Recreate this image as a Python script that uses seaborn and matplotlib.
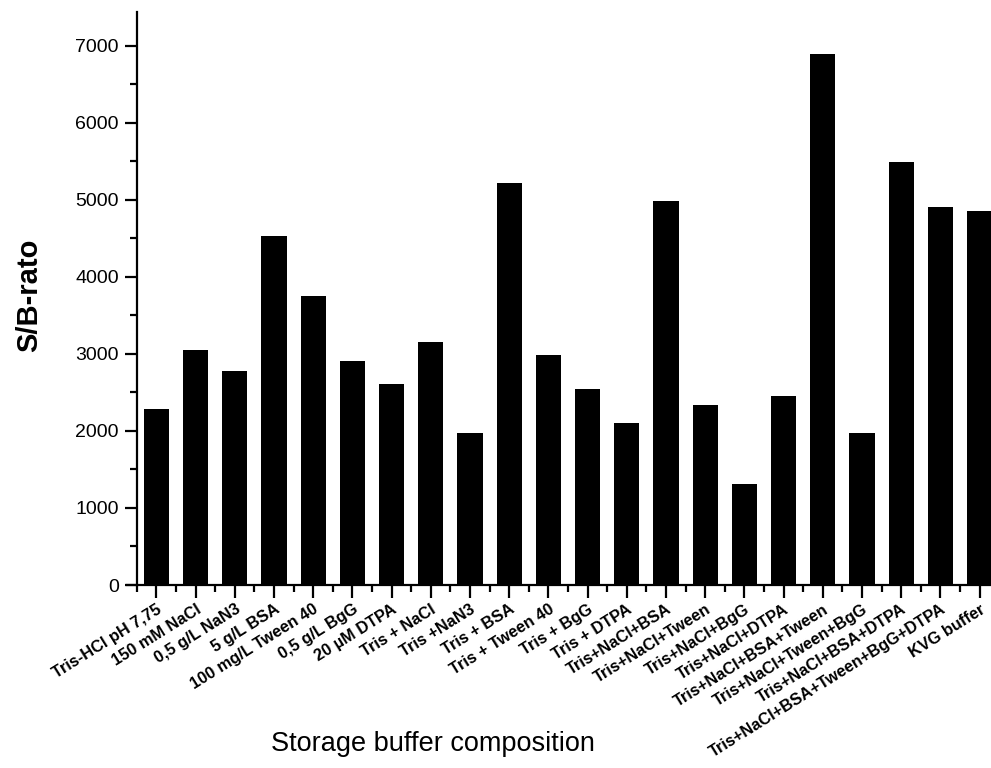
import matplotlib
matplotlib.use("Agg")
import matplotlib.pyplot as plt
from matplotlib.ticker import MultipleLocator, FixedLocator
import seaborn as sns
import pandas as pd

# Buffer compositions tested and their signal-to-background ratios
compositions = [
    "Tris-HCl pH 7,75", "150 mM NaCl", "0,5 g/L NaN3", "5 g/L BSA",
    "100 mg/L Tween 40", "0,5 g/L BgG", "20 µM DTPA", "Tris + NaCl",
    "Tris +NaN3", "Tris + BSA", "Tris + Tween 40", "Tris + BgG",
    "Tris + DTPA", "Tris+NaCl+BSA", "Tris+NaCl+Tween", "Tris+NaCl+BgG",
    "Tris+NaCl+DTPA", "Tris+NaCl+BSA+Tween", "Tris+NaCl+Tween+BgG",
    "Tris+NaCl+BSA+DTPA", "Tris+NaCl+BSA+Tween+BgG+DTPA", "KVG buffer",
]
sb_ratio = [
    2285, 3054, 2778, 4526, 3755, 2908, 2613, 3150, 1973, 5214, 2989,
    2544, 2107, 4984, 2333, 1307, 2449, 6889, 1973, 5495, 4903, 4855,
]
y_ticks = [0, 1000, 2000, 3000, 4000, 5000, 6000, 7000]

df = pd.DataFrame({"composition": compositions, "ratio": sb_ratio})

sns.set_style("ticks", {"axes.edgecolor": "black", "text.color": "black",
                        "axes.labelcolor": "black", "xtick.color": "black",
                        "ytick.color": "black"})
plt.rcParams["font.family"] = ["Liberation Sans", "DejaVu Sans"]

fig = plt.figure(figsize=(9.91, 7.68), dpi=100)
ax = fig.add_axes([127 / 991, 183 / 768, 864 / 991, 573 / 768])

sns.barplot(data=df, x="composition", y="ratio", color="black",
            saturation=1, width=0.64, linewidth=0, ax=ax)

ax.set_xlim(-0.75, 21.29)
ax.set_ylim(0, 7440)

# axis frame: left axis sits at the first minor category boundary
for s in ("top", "right"):
    ax.spines[s].set_visible(False)
ax.spines["left"].set_position(("data", -0.5))
for s in ("left", "bottom"):
    ax.spines[s].set_linewidth(1.6)
    ax.spines[s].set_color("black")

ax.yaxis.set_major_locator(FixedLocator(y_ticks))
ax.yaxis.set_minor_locator(MultipleLocator(500))
ax.xaxis.set_minor_locator(FixedLocator([i - 0.5 for i in range(len(compositions) + 1)]))

ax.tick_params(axis="both", which="major", direction="out", length=9,
               width=1.6, color="black", labelcolor="black")
ax.tick_params(axis="both", which="minor", direction="out", length=5,
               width=1.6, color="black")
ax.tick_params(axis="y", which="major", labelsize=14, pad=4)
ax.tick_params(axis="x", which="major", pad=3)

ax.set_xticks(range(len(compositions)))
ax.set_xticklabels(compositions, rotation=32, ha="right", va="top",
                   rotation_mode="anchor", fontsize=11.8, fontweight="bold",
                   color="black")

ax.set_ylabel("S/B-rato", fontsize=21, fontweight="bold", color="black")
ax.yaxis.set_label_coords(-0.097, 0.505)
ax.set_xlabel("Storage buffer composition", fontsize=19.5, color="black")
ax.xaxis.set_label_coords(0.354, -0.255)

fig.savefig("out.png", dpi=100)
